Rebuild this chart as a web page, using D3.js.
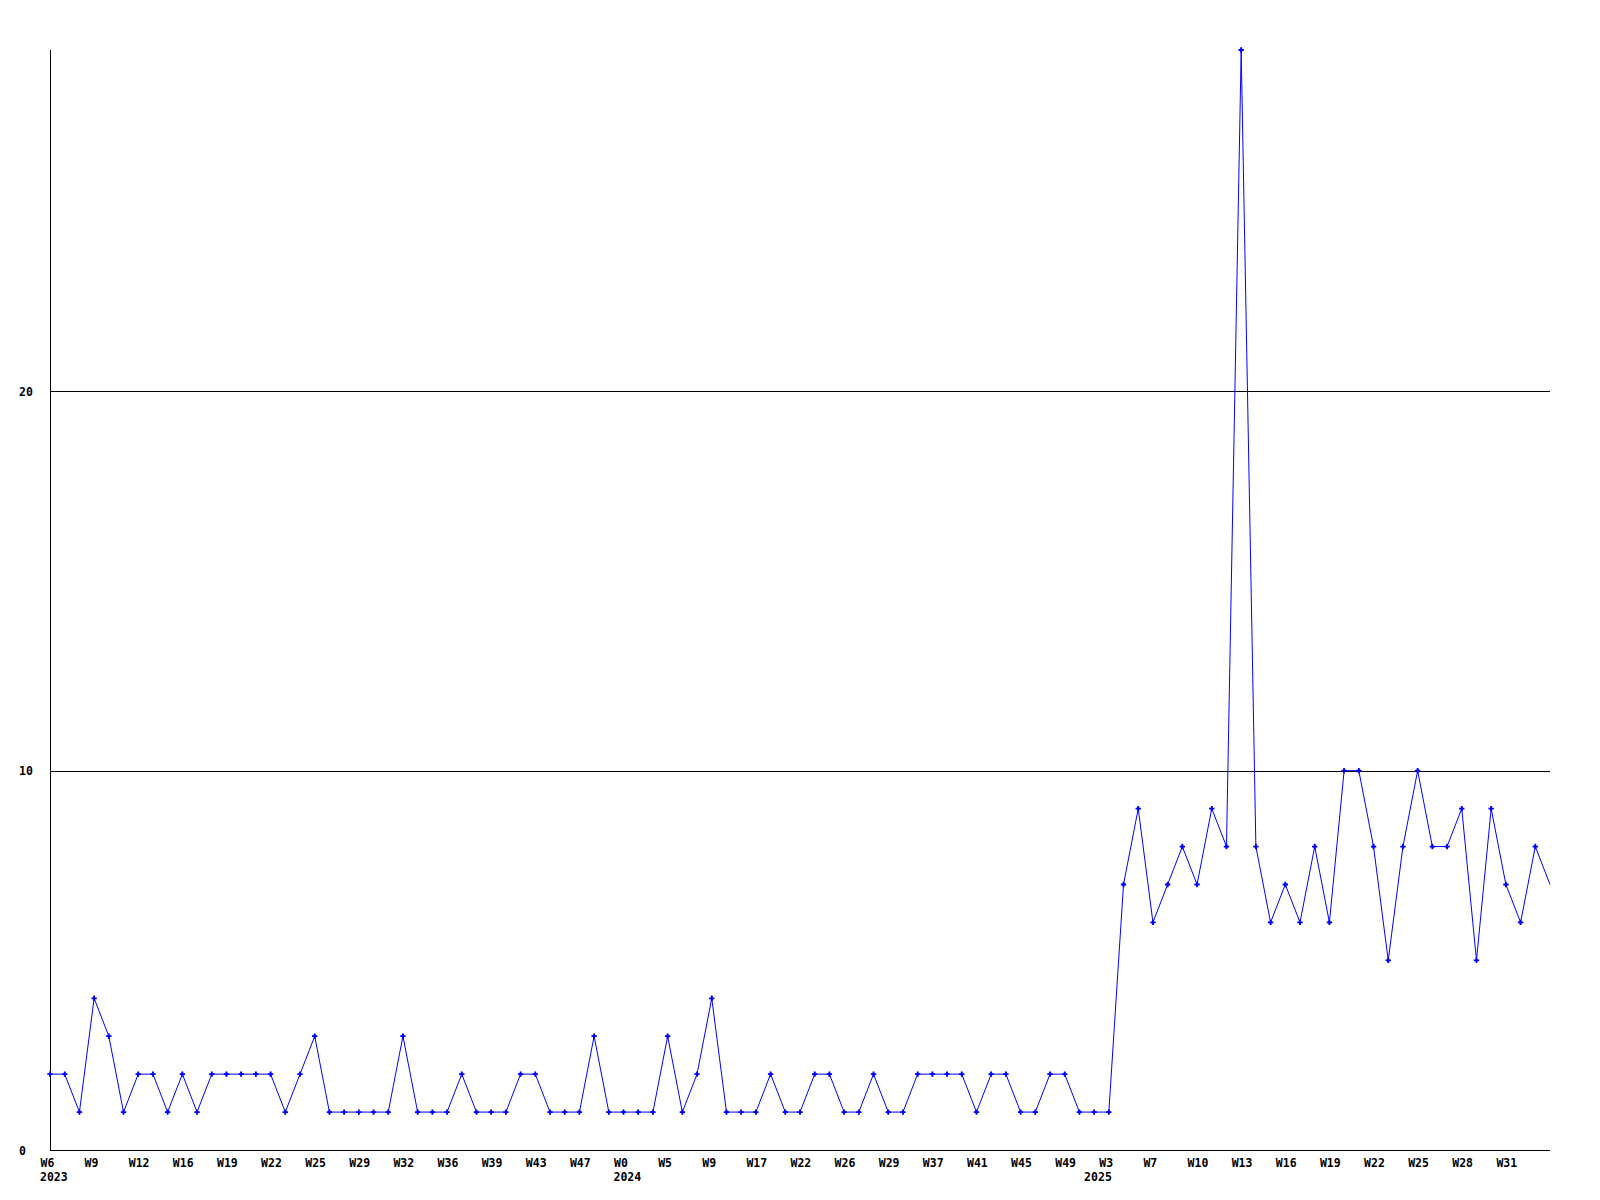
<!DOCTYPE html>
<html>
<head>
<meta charset="utf-8">
<script src="https://cdn.jsdelivr.net/npm/d3@7"></script>
<style>
  html, body { margin: 0; padding: 0; background: #fff; }
  svg { display: block; }
  text { font-family: "DejaVu Sans Mono", monospace; font-weight: bold; font-size: 11.5px; fill: #000; }
</style>
</head>
<body>
<svg id="chart" width="1600" height="1200"></svg>
<script>
// Weekly values (103 weeks)
const values = [
  2, 2, 1, 4, 3, 1, 2, 2, 1, 2,
  1, 2, 2, 2, 2, 2, 1, 2, 3, 1,
  1, 1, 1, 1, 3, 1, 1, 1, 2, 1,
  1, 1, 2, 2, 1, 1, 1, 3, 1, 1,
  1, 1, 3, 1, 2, 4, 1, 1, 1, 2,
  1, 1, 2, 2, 1, 1, 2, 1, 1, 2,
  2, 2, 2, 1, 2, 2, 1, 1, 2, 2,
  1, 1, 1, 7, 9, 6, 7, 8, 7, 9,
  8, 29, 8, 6, 7, 6, 8, 6, 10, 10,
  8, 5, 8, 10, 8, 8, 9, 5, 9, 7,
  6, 8, 7
];
// X tick labels (one every 3 weeks)
const tickLabels = ["W6","W9","W12","W16","W19","W22","W25","W29","W32","W36","W39","W43","W47",
                    "W0","W5","W9","W17","W22","W26","W29","W37","W41","W45","W49",
                    "W3","W7","W10","W13","W16","W19","W22","W25","W28","W31"];
const tickStep = 3;
const yearLabels = ["2023", "2024", "2025"];
const yearIndex = [0, 39, 71];
const yTicks = [0, 10, 20];
const yMax = 29;

(function () {
const svg = d3.select("#chart");
const mLeft = 50, mRight = 1550, mTop = 50, mBottom = 1150;

const x = d3.scaleLinear().domain([0, values.length - 1]).range([mLeft, mRight]);
const y = d3.scaleLinear().domain([0, yMax]).range([mBottom, mTop]);

// Gridlines
svg.append("g").selectAll("line")
  .data(yTicks.filter(v => v > 0))
  .join("line")
  .attr("x1", mLeft).attr("x2", mRight)
  .attr("y1", d => Math.round(y(d)) + 0.5).attr("y2", d => Math.round(y(d)) + 0.5)
  .attr("stroke", "#000").attr("stroke-width", 1);

// Y axis
const yAxis = svg.append("g")
  .attr("transform", `translate(${mLeft + 0.5},0)`)
  .call(d3.axisLeft(y).tickValues(yTicks).tickSize(0).tickFormat(d3.format("d")));
yAxis.select(".domain").attr("stroke", "#000").attr("d", `M0,${mTop}V${mBottom + 0.5}`);
yAxis.selectAll("text")
  .attr("text-anchor", "start")
  .attr("x", 19 - (mLeft + 0.5))
  .attr("dy", "0.35em")
  .style("font-family", "'DejaVu Sans Mono', monospace")
  .style("font-size", "11.5px")
  .style("font-weight", "bold");

// X axis
const tickIdx = tickLabels.map((_, i) => i * tickStep);
const xAxis = svg.append("g")
  .attr("transform", `translate(0,${mBottom + 0.5})`)
  .call(d3.axisBottom(x).tickValues(tickIdx).tickSize(0)
        .tickFormat((d, i) => tickLabels[i]));
xAxis.select(".domain").attr("stroke", "#000").attr("d", `M${mLeft},0H${mRight}`);
xAxis.selectAll("text")
  .attr("text-anchor", "start")
  .attr("x", -10)
  .attr("y", 16)
  .attr("dy", 0)
  .style("font-family", "'DejaVu Sans Mono', monospace")
  .style("font-size", "11.5px")
  .style("font-weight", "bold");

// Year labels
svg.append("g").selectAll("text")
  .data(yearLabels)
  .join("text")
  .attr("x", (d, i) => x(yearIndex[i]) - 10)
  .attr("y", mBottom + 31)
  .text(d => d);

// Series line
const line = d3.line().x((d, i) => x(i)).y(d => y(d));
svg.append("path")
  .datum(values)
  .attr("d", line)
  .attr("fill", "none")
  .attr("stroke", "#0000ff")
  .attr("stroke-width", 1);

// Markers (the last point sits on the plot edge and shows none)
const cross = d3.symbol().type(d3.symbolCross).size(16);
const diamond = d3.symbol().type(d3.symbolDiamond).size(8);
const mk = svg.append("g").selectAll("g")
  .data(values.slice(0, values.length - 1))
  .join("g")
  .attr("transform", (d, i) => `translate(${x(i)},${y(d)})`);
mk.append("path").attr("d", cross).attr("fill", "#0000ff");
mk.append("path").attr("d", diamond).attr("fill", "#0000ff");
})();
</script>
</body>
</html>
